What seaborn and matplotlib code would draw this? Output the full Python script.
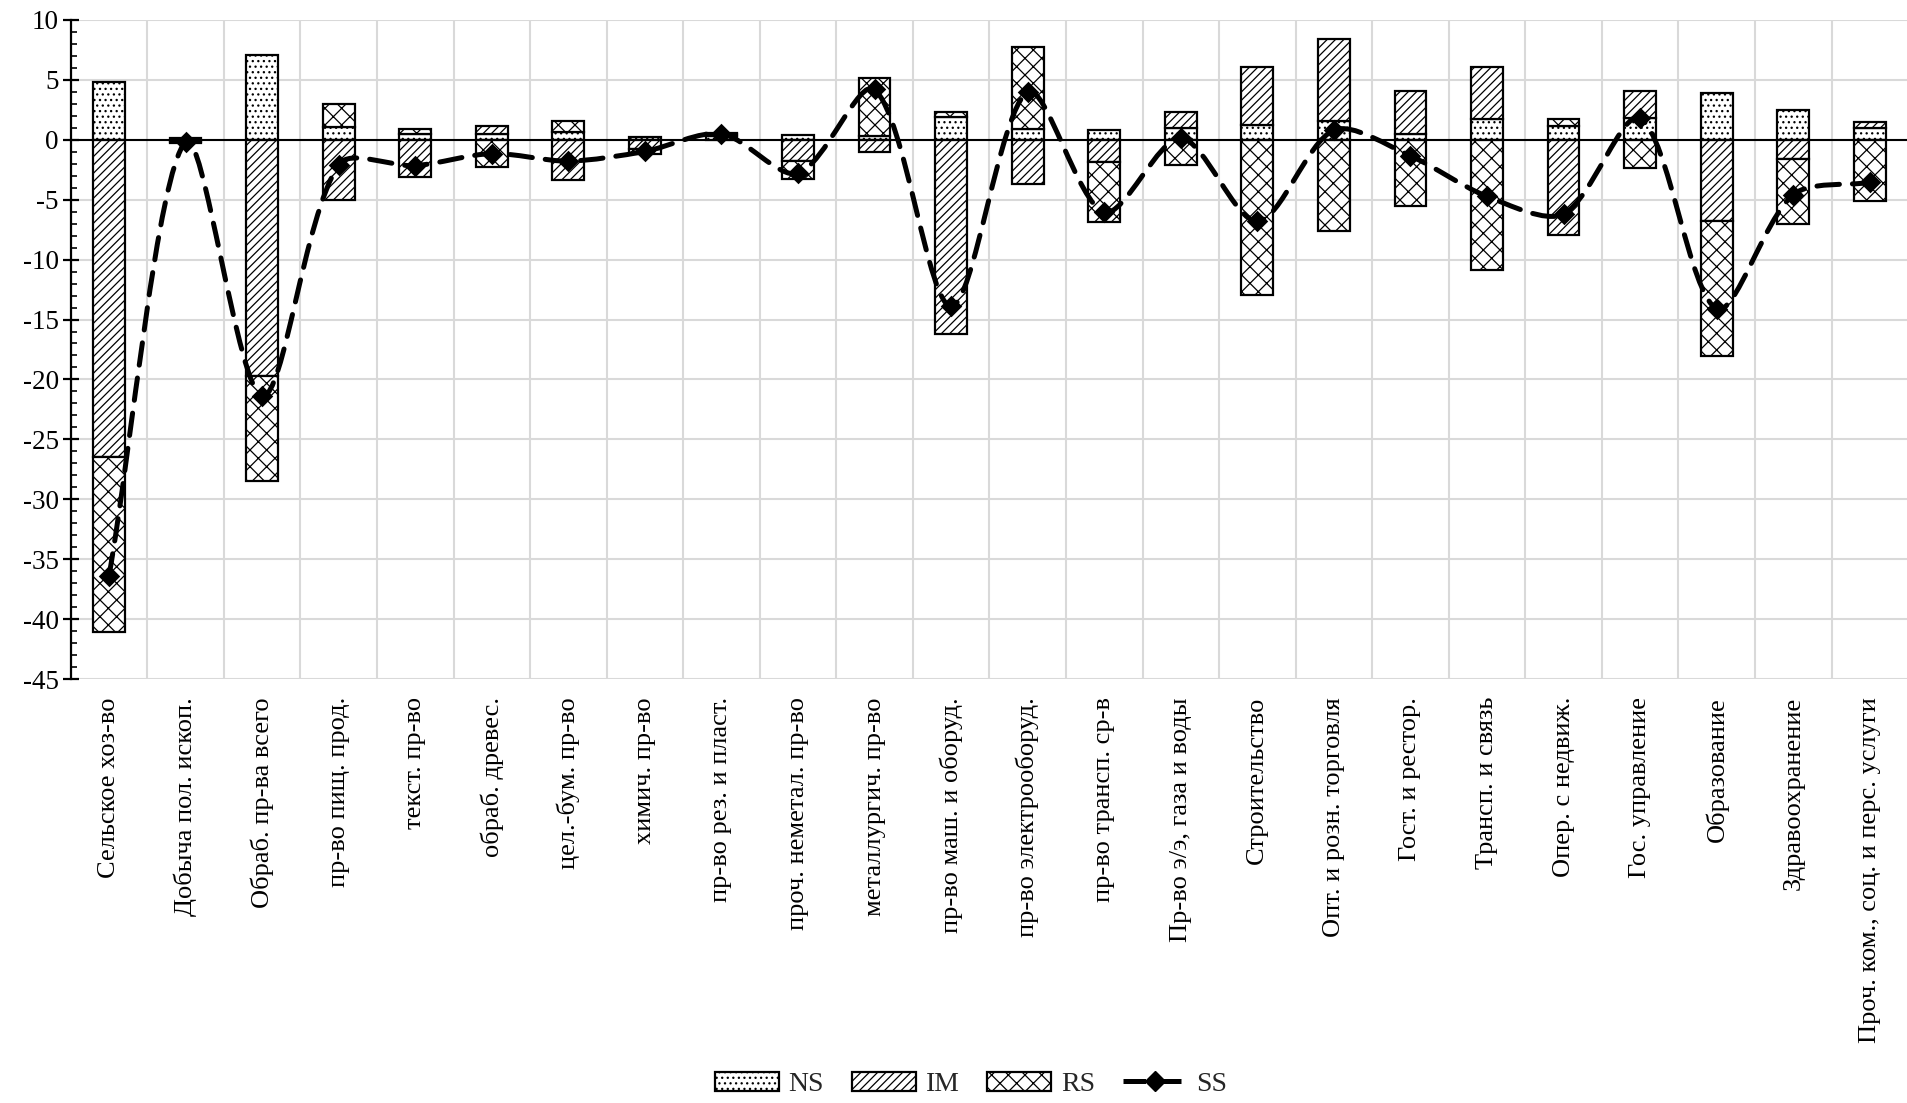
import numpy as np
import matplotlib
matplotlib.use("Agg")
import matplotlib.pyplot as plt
import seaborn as sns
from matplotlib.patches import Patch, PathPatch
from matplotlib.lines import Line2D
from matplotlib.path import Path

# ---------------- data ----------------
categories = [
    "Сельское хоз-во", "Добыча пол. ископ.", "Обраб. пр-ва всего", "пр-во пищ. прод.",
    "текст. пр-во", "обраб. древес.", "цел.-бум. пр-во", "химич. пр-во",
    "пр-во рез. и пласт.", "проч. неметал. пр-во", "металлургич. пр-во",
    "пр-во маш. и оборуд.", "пр-во электрооборуд.", "пр-во трансп. ср-в",
    "Пр-во э/э, газа и воды", "Строительство", "Опт. и розн. торговля",
    "Гост. и рестор.", "Трансп. и связь", "Опер. с недвиж.", "Гос. управление",
    "Образование", "Здравоохранение", "Проч. ком., соц. и перс. услуги",
]
NS = [4.8, 0.12, 7.1, 1.1, 0.47, 0.5, 0.69, 0.25, 0.3, 0.44, 0.28, 1.94,
      0.89, 0.78, 0.97, 1.25, 1.53, 0.47, 1.72, 1.11, 1.8, 3.89, 2.47, 0.97]
IM = [-26.5, -0.15, -19.7, -5.0, -3.12, 0.69, -3.35, -0.75, 0.2, -1.8, -1.0, -16.2,
      -3.69, -1.89, 1.34, 4.86, 6.86, 3.64, 4.39, -7.94, 2.25, -6.8, -1.61, 0.5]
RS = [-14.6, -0.15, -8.8, 1.85, 0.45, -2.28, 0.84, -0.42, 0.05, -1.48, 4.86, 0.39,
      6.83, -5.0, -2.14, -12.97, -7.58, -5.53, -10.86, 0.64, -2.36, -11.26, -5.42, -5.08]
SS = [-36.4, -0.15, -21.4, -2.08, -2.16, -1.15, -1.78, -0.97, 0.5, -2.8, 4.2, -13.9,
      4.0, -6.05, 0.14, -6.8, 0.8, -1.35, -4.72, -6.19, 1.8, -14.1, -4.58, -3.56]
series_names = ["NS", "IM", "RS", "SS"]
y_ticks = [10, 5, 0, -5, -10, -15, -20, -25, -30, -35, -40, -45]

# ---------------- style ----------------
sns.set_theme(style="white")
plt.rcParams["font.family"] = ["Liberation Serif", "DejaVu Serif"]
plt.rcParams["axes.unicode_minus"] = False
plt.rcParams["hatch.linewidth"] = 0.9
plt.rcParams["hatch.color"] = "black"

fig = plt.figure(figsize=(19.08, 11.03), dpi=100)
ax = fig.add_axes([0.03706, 0.3844, 0.963, 0.5975])

x = np.arange(len(categories))
width = 0.415
hatches = ["...", "////", "xx"]

pos_base = np.zeros(len(x))
neg_base = np.zeros(len(x))
for vals, h in zip([NS, IM, RS], hatches):
    v = np.array(vals, dtype=float)
    bottoms = np.where(v >= 0, pos_base, neg_base)
    ax.bar(x, v, bottom=bottoms, width=width, color="white", edgecolor="black",
           hatch=h, linewidth=1.6, zorder=2)
    pos_base += np.clip(v, 0, None)
    neg_base += np.clip(v, None, 0)

ax.axhline(0, color="black", lw=1.5, zorder=3)

# smoothed SS line: Bezier through the data points with chord-length weighted handles
P = np.column_stack([x, np.array(SS, dtype=float)])
sx, sy = 76.5, 12.0  # approx pixel per data unit, for chord lengths
def dist(a, b):
    return np.hypot((a[0] - b[0]) * sx, (a[1] - b[1]) * sy)
n = len(P)
verts = [tuple(P[0])]
codes = [Path.MOVETO]
f = 0.3
for i in range(n - 1):
    p0 = P[i - 1] if i > 0 else P[i]
    p1 = P[i]
    p2 = P[i + 1]
    p3 = P[i + 2] if i + 2 < n else P[i + 1]
    d01, d12, d23 = dist(p0, p1), dist(p1, p2), dist(p2, p3)
    w1 = d12 / (d01 + d12) if (d01 + d12) > 0 else 0.5
    w2 = d12 / (d12 + d23) if (d12 + d23) > 0 else 0.5
    c1 = p1 + (p2 - p0) * f * w1
    c2 = p2 - (p3 - p1) * f * w2
    verts += [tuple(c1), tuple(c2), tuple(p2)]
    codes += [Path.CURVE4, Path.CURVE4, Path.CURVE4]
dash = (0, (4.5, 2.6))
ax.add_patch(PathPatch(Path(verts, codes), fill=False, edgecolor="black",
                       lw=3.6, linestyle=dash, capstyle="round", zorder=4))
sns.scatterplot(x=x, y=SS, marker="D", s=120, color="black", edgecolor="black",
                linewidth=0, zorder=5, ax=ax, legend=False)

# axes
ax.set_xlim(-0.5, len(categories) - 0.5)
ax.set_ylim(-45, 10)
ax.set_yticks(y_ticks)
ax.set_yticklabels([str(t) for t in y_ticks])
ax.set_yticks(np.arange(-45, 11, 1), minor=True)
ax.set_xticks(x)
ax.set_xticklabels(categories, rotation=90, va="top", ha="center")
ax.set_xticks(np.arange(-0.5, len(categories), 1), minor=True)

ax.set_axisbelow(True)
ax.grid(axis="y", which="major", color="#d9d9d9", lw=1.5)
ax.grid(axis="x", which="minor", color="#d9d9d9", lw=1.5)
ax.grid(axis="x", which="major", visible=False)

for s in ["top", "right", "bottom"]:
    ax.spines[s].set_visible(False)
ax.spines["left"].set_color("black")
ax.spines["left"].set_linewidth(1.6)

ax.tick_params(axis="y", which="major", direction="inout", length=11, width=1.6,
               labelsize=19.5, pad=3, colors="black", left=True)
ax.tick_params(axis="y", which="minor", direction="in", length=4.5, width=1.4,
               left=True)
ax.tick_params(axis="x", which="both", length=0, labelsize=19, pad=13,
               colors="black")
ax.set_xlabel("")
ax.set_ylabel("")

handles = [
    Patch(facecolor="white", edgecolor="black", hatch=hatches[0], lw=1.6),
    Patch(facecolor="white", edgecolor="black", hatch=hatches[1], lw=1.6),
    Patch(facecolor="white", edgecolor="black", hatch=hatches[2], lw=1.6),
    Line2D([], [], color="black", lw=3.6, linestyle=dash, marker="D", markersize=10),
]
fig.legend(handles, series_names, loc="center", bbox_to_anchor=(0.509, 0.017),
           ncol=4, frameon=False, fontsize=20, handlelength=2.3,
           handleheight=0.7, handletextpad=0.35, columnspacing=1.0)

fig.savefig("out.png", dpi=100)
